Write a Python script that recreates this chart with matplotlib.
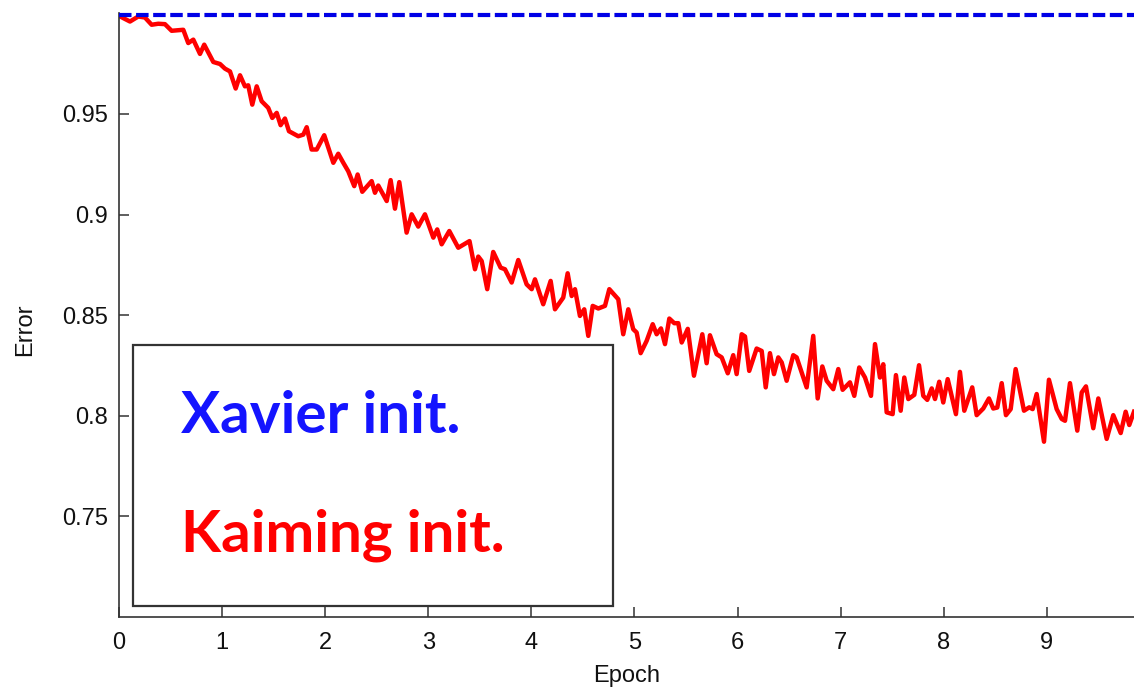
import matplotlib
matplotlib.use("Agg")
import matplotlib.pyplot as plt
from matplotlib.patches import Rectangle

# ---------- data ----------
kaiming_epoch = [
    0.01, 0.042, 0.107, 0.187, 0.252, 0.317, 0.381, 0.446, 0.511, 0.624, 0.672,
    0.721, 0.786, 0.827, 0.915, 0.980, 1.028, 1.077, 1.132, 1.174, 1.222, 1.254,
    1.293, 1.336, 1.384, 1.448, 1.487, 1.530, 1.568, 1.610, 1.649, 1.739, 1.788,
    1.821, 1.869, 1.918, 1.991, 2.079, 2.127, 2.176, 2.224, 2.282, 2.315, 2.360,
    2.451, 2.483, 2.515, 2.597, 2.635, 2.677, 2.719, 2.790, 2.839, 2.903, 2.968,
    3.049, 3.087, 3.130, 3.204, 3.291, 3.400, 3.453, 3.485, 3.518, 3.572, 3.630,
    3.702, 3.744, 3.809, 3.873, 3.954, 4.003, 4.035, 4.115, 4.187, 4.229, 4.309,
    4.352, 4.391, 4.423, 4.471, 4.513, 4.552, 4.595, 4.649, 4.714, 4.756, 4.843,
    4.891, 4.940, 4.988, 5.021, 5.060, 5.118, 5.177, 5.215, 5.257, 5.296, 5.338,
    5.386, 5.425, 5.458, 5.517, 5.577, 5.658, 5.700, 5.732, 5.797, 5.846, 5.905,
    5.958, 5.991, 6.040, 6.072, 6.113, 6.185, 6.234, 6.273, 6.314, 6.353, 6.395,
    6.428, 6.476, 6.540, 6.573, 6.670, 6.734, 6.777, 6.822, 6.864, 6.928, 6.977,
    7.019, 7.090, 7.132, 7.180, 7.236, 7.294, 7.333, 7.381, 7.413, 7.446, 7.504,
    7.536, 7.582, 7.617, 7.656, 7.714, 7.760, 7.801, 7.840, 7.883, 7.915, 7.956,
    7.995, 8.038, 8.118, 8.157, 8.199, 8.276, 8.319, 8.383, 8.438, 8.480, 8.519,
    8.562, 8.603, 8.649, 8.697, 8.778, 8.829, 8.862, 8.901, 8.972, 9.020, 9.095,
    9.144, 9.176, 9.224, 9.295, 9.338, 9.379, 9.450, 9.499, 9.580, 9.644, 9.716,
    9.764, 9.799, 9.845,
]
kaiming_error = [
    0.9985, 0.9976, 0.9959, 0.9984, 0.9979, 0.9943, 0.9948, 0.9946, 0.9913, 0.9918, 0.9852,
    0.9869, 0.9798, 0.9844, 0.9758, 0.9748, 0.9725, 0.9711, 0.9626, 0.9692, 0.9637, 0.9642,
    0.9546, 0.9637, 0.9563, 0.9530, 0.9480, 0.9505, 0.9444, 0.9477, 0.9414, 0.9389, 0.9397,
    0.9434, 0.9323, 0.9323, 0.9394, 0.9257, 0.9302, 0.9257, 0.9215, 0.9141, 0.9199, 0.9113,
    0.9166, 0.9108, 0.9144, 0.9067, 0.9171, 0.9029, 0.9161, 0.8910, 0.9001, 0.8940, 0.9001,
    0.8885, 0.8926, 0.8852, 0.8918, 0.8835, 0.8868, 0.8728, 0.8791, 0.8769, 0.8629, 0.8814,
    0.8736, 0.8728, 0.8662, 0.8774, 0.8653, 0.8629, 0.8678, 0.8554, 0.8670, 0.8529, 0.8587,
    0.8708, 0.8595, 0.8629, 0.8496, 0.8529, 0.8397, 0.8546, 0.8533, 0.8546, 0.8629, 0.8579,
    0.8405, 0.8529, 0.8430, 0.8414, 0.8311, 0.8372, 0.8455, 0.8405, 0.8434, 0.8356, 0.8483,
    0.8460, 0.8460, 0.8364, 0.8432, 0.8199, 0.8405, 0.8261, 0.8400, 0.8306, 0.8290, 0.8211,
    0.8301, 0.8207, 0.8405, 0.8394, 0.8223, 0.8334, 0.8322, 0.8141, 0.8311, 0.8207, 0.8290,
    0.8265, 0.8174, 0.8301, 0.8290, 0.8141, 0.8397, 0.8086, 0.8245, 0.8174, 0.8132, 0.8232,
    0.8129, 0.8166, 0.8099, 0.8240, 0.8190, 0.8099, 0.8356, 0.8190, 0.8256, 0.8017, 0.8008,
    0.8202, 0.8025, 0.8190, 0.8083, 0.8104, 0.8251, 0.8099, 0.8079, 0.8136, 0.8083, 0.8169,
    0.8066, 0.8182, 0.8008, 0.8218, 0.8025, 0.8141, 0.8003, 0.8036, 0.8086, 0.8036, 0.8041,
    0.8162, 0.8003, 0.8033, 0.8232, 0.8025, 0.8042, 0.8033, 0.8108, 0.7871, 0.8179, 0.8033,
    0.7984, 0.7975, 0.8162, 0.7926, 0.8116, 0.8146, 0.7938, 0.8086, 0.7885, 0.8003, 0.7914,
    0.8020, 0.7954, 0.8020,
]
xavier_epoch = [0.0, 9.845]
xavier_error = [0.999, 0.999]

x_ticks = [0, 1, 2, 3, 4, 5, 6, 7, 8, 9]
y_ticks = [0.75, 0.8, 0.85, 0.9, 0.95]
y_ticklabels = ['0.75', '0.8', '0.85', '0.9', '0.95']

# ---------- plot ----------
plt.rcParams['font.family'] = ['Liberation Sans', 'DejaVu Sans']
fig = plt.figure(figsize=(11.34, 6.88), dpi=100)
ax = fig.add_axes([0.1049, 0.1032, 0.8951, 0.8775])

ax.plot(xavier_epoch, xavier_error, color='#0000e6', lw=3.0, ls=(0, (3.0, 1.1)),
        solid_capstyle='butt', clip_on=False, zorder=3)
ax.plot(kaiming_epoch, kaiming_error, color='#ff0000', lw=3.2, zorder=2)

ax.set_xlim(0, 9.845)
ax.set_ylim(0.7, 1.0)
ax.set_xticks(x_ticks)
ax.set_yticks(y_ticks)
ax.set_yticklabels(y_ticklabels)

for s in ['top', 'right']:
    ax.spines[s].set_visible(False)
for s in ['left', 'bottom']:
    ax.spines[s].set_color('#333333')
    ax.spines[s].set_linewidth(1.2)
ax.tick_params(direction='in', length=7, width=1.1, color='#333333',
               labelsize=17, labelcolor='#111111')
ax.tick_params(axis='x', pad=11)
ax.tick_params(axis='y', pad=8)

ax.set_xlabel('Epoch', fontsize=17, color='#111111', labelpad=8)
ax.set_ylabel('Error', fontsize=17, color='#111111')
ax.yaxis.set_label_coords(-0.082, 0.475)

# legend-like box with big coloured labels
box = Rectangle((0.0138, 0.0182), 0.4729, 0.4321, transform=ax.transAxes,
                facecolor='white', edgecolor='#333333', lw=1.6, zorder=4)
ax.add_patch(box)
ax.text(0.0611, 0.305, 'Xavier init.', transform=ax.transAxes, color='#1414ff',
        fontsize=42, fontweight='bold', family=['Lato', 'DejaVu Sans'],
        va='baseline', ha='left', zorder=5)
ax.text(0.0611, 0.108, 'Kaiming init.', transform=ax.transAxes, color='#ff0000',
        fontsize=42, fontweight='bold', family=['Lato', 'DejaVu Sans'],
        va='baseline', ha='left', zorder=5)

fig.savefig('out.png', dpi=100)
